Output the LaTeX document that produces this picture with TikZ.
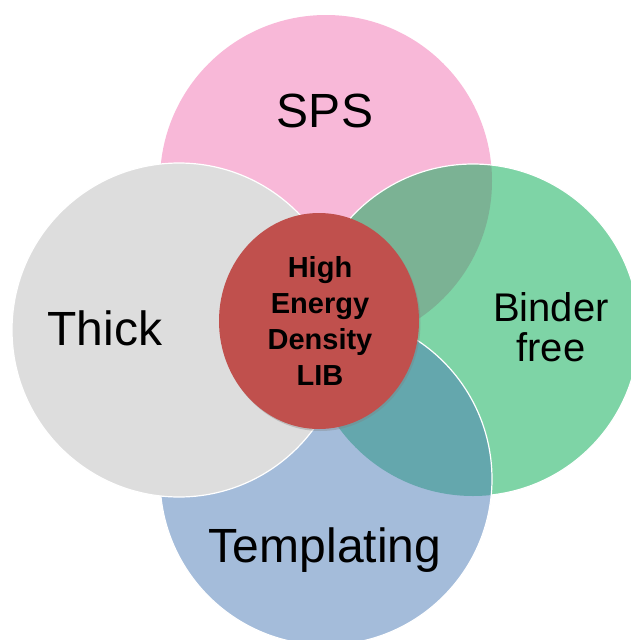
\documentclass[tikz,border=0pt]{standalone}
\usepackage{fontspec}
\setmainfont{Liberation Sans}
\usepackage{tikz}
\usetikzlibrary{shadows,shapes.geometric}

\definecolor{spspink}{RGB}{248,184,216}
\definecolor{thickgray}{RGB}{221,221,221}
\definecolor{bindergreen}{RGB}{126,212,166}
\definecolor{templblue}{RGB}{164,188,218}
\definecolor{pinkgreen}{RGB}{123,178,148}
\definecolor{bluegreen}{RGB}{100,167,173}
\definecolor{libred}{RGB}{192,80,77}

\begin{document}
\begin{tikzpicture}[x=1pt,y=-1pt]
\tikzstyle{every node}+=[inner sep=0pt]
\tikzstyle{rim}=[white,line width=1.2pt]
\tikzstyle{biglabel}=[font=\fontsize{48}{48}\selectfont,anchor=base]
\useasboundingbox (0,0) rectangle (631,640);
% circle centres
\coordinate (cs) at (326,181);
\coordinate (ct) at (179,330);
\coordinate (cb) at (473,330);
\coordinate (cm) at (326,479);
\coordinate (cl) at (319,321);
% SPS
\fill [spspink] (cs) circle (166pt);
% Binder free
\fill [bindergreen] (cb) circle (166pt);
\begin{scope}
\clip (cb) circle (166pt);
\fill [pinkgreen] (cs) circle (166pt);
\end{scope}
\draw [rim] (cb) circle (166pt);
% Templating
\fill [templblue] (cm) circle (166pt);
\begin{scope}
\clip (cm) circle (166pt);
\fill [bluegreen] (cb) circle (166pt);
\end{scope}
\draw [rim] (cm) circle (166pt);
% Thick
\fill [thickgray] (ct) circle (167pt);
\draw [rim] (ct) circle (167pt);
% centre
\node (lib) at (cl) [ellipse,minimum width=200pt,minimum height=216pt,fill=libred,
  drop shadow={shadow xshift=1.5pt,shadow yshift=-2pt,opacity=0.35}] {};
\node (libtext) at (320,320.5) [align=center,font=\bfseries\fontsize{29}{36}\selectfont]
  {High\\Energy\\Density\\LIB};
\node (sps) at (325,127) [biglabel] {SPS};
\node (thick) at (105,345) [biglabel] {Thick};
\node (templ) at (325,562) [biglabel] {Templating};
\node (binder) at (551,327.5) [align=center,font=\fontsize{40}{40}\selectfont] {Binder\\free};
\end{tikzpicture}
\end{document}
